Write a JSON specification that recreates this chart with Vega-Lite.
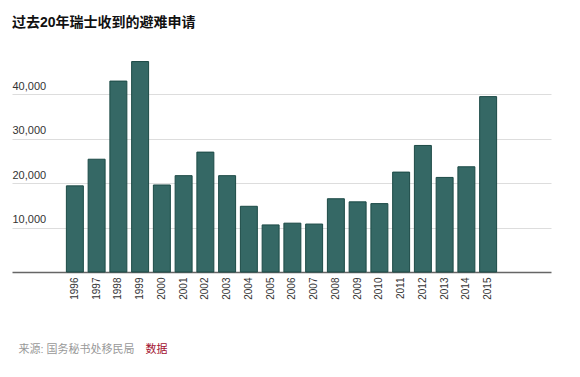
{
  "$schema": "https://vega.github.io/schema/vega-lite/v6.json",
  "autosize": {"type": "none"},
  "width": 539,
  "height": 222,
  "padding": {"left": 12, "top": 50, "right": 29, "bottom": 105},
  "background": "white",
  "title": {
    "text": "过去20年瑞士收到的避难申请",
    "anchor": "start",
    "frame": "group",
    "font": "Liberation Sans, Noto Sans CJK SC",
    "fontSize": 14,
    "fontWeight": "bold",
    "color": "#111111",
    "offset": 20
  },
  "data": {
    "values": [
      {"year": "1996", "count": 19400},
      {"year": "1997", "count": 25400},
      {"year": "1998", "count": 43000},
      {"year": "1999", "count": 47400},
      {"year": "2000", "count": 19600},
      {"year": "2001", "count": 21700},
      {"year": "2002", "count": 27000},
      {"year": "2003", "count": 21700},
      {"year": "2004", "count": 14800},
      {"year": "2005", "count": 10600},
      {"year": "2006", "count": 11000},
      {"year": "2007", "count": 10800},
      {"year": "2008", "count": 16500},
      {"year": "2009", "count": 15800},
      {"year": "2010", "count": 15400},
      {"year": "2011", "count": 22500},
      {"year": "2012", "count": 28500},
      {"year": "2013", "count": 21300},
      {"year": "2014", "count": 23700},
      {"year": "2015", "count": 39500}
    ]
  },
  "mark": {"type": "bar", "fill": "#356865", "stroke": "#1c4a46", "strokeWidth": 1},
  "encoding": {
    "x": {
      "field": "year",
      "type": "ordinal",
      "sort": null,
      "scale": {
        "domain": ["pad1", "pad2", "1996", "1997", "1998", "1999", "2000", "2001", "2002", "2003", "2004", "2005", "2006", "2007", "2008", "2009", "2010", "2011", "2012", "2013", "2014", "2015", "pad3", "pad4"],
        "paddingInner": 0.22,
        "paddingOuter": 0.5,
        "align": 0.5
      },
      "axis": {
        "values": ["1996", "1997", "1998", "1999", "2000", "2001", "2002", "2003", "2004", "2005", "2006", "2007", "2008", "2009", "2010", "2011", "2012", "2013", "2014", "2015"],
        "title": "来源: 国务秘书处移民局",
        "titleFont": "Liberation Sans, Noto Sans CJK SC",
        "titleFontSize": 11,
        "titleFontWeight": "normal",
        "titleColor": "#999999",
        "titleAnchor": "start",
        "titleAlign": "left",
        "titleBaseline": "middle",
        "titleX": 6,
        "titleY": 77,
        "labelAngle": -90,
        "labelFont": "Liberation Sans",
        "labelFontSize": 10,
        "labelColor": "#333333",
        "labelPadding": 5,
        "ticks": false,
        "domainColor": "#666666",
        "domainWidth": 1.5,
        "grid": false
      }
    },
    "y": {
      "field": "count",
      "type": "quantitative",
      "scale": {"domain": [0, 50000], "nice": false},
      "axis": {
        "values": [10000, 20000, 30000, 40000],
        "format": ",d",
        "title": "数据",
        "titleAngle": 0,
        "titleFont": "Liberation Sans, Noto Sans CJK SC",
        "titleFontSize": 11,
        "titleFontWeight": "normal",
        "titleColor": "#a3122f",
        "titleAlign": "left",
        "titleBaseline": "middle",
        "titleX": 133,
        "titleY": 299,
        "ticks": false,
        "domain": false,
        "labelAlign": "left",
        "labelBaseline": "bottom",
        "labelPadding": 0,
        "labelOffset": -3,
        "labelFont": "Liberation Sans",
        "labelFontSize": 11,
        "labelColor": "#333333",
        "gridColor": "#dddddd",
        "gridWidth": 1
      }
    }
  },
  "config": {"view": {"stroke": null}}
}
